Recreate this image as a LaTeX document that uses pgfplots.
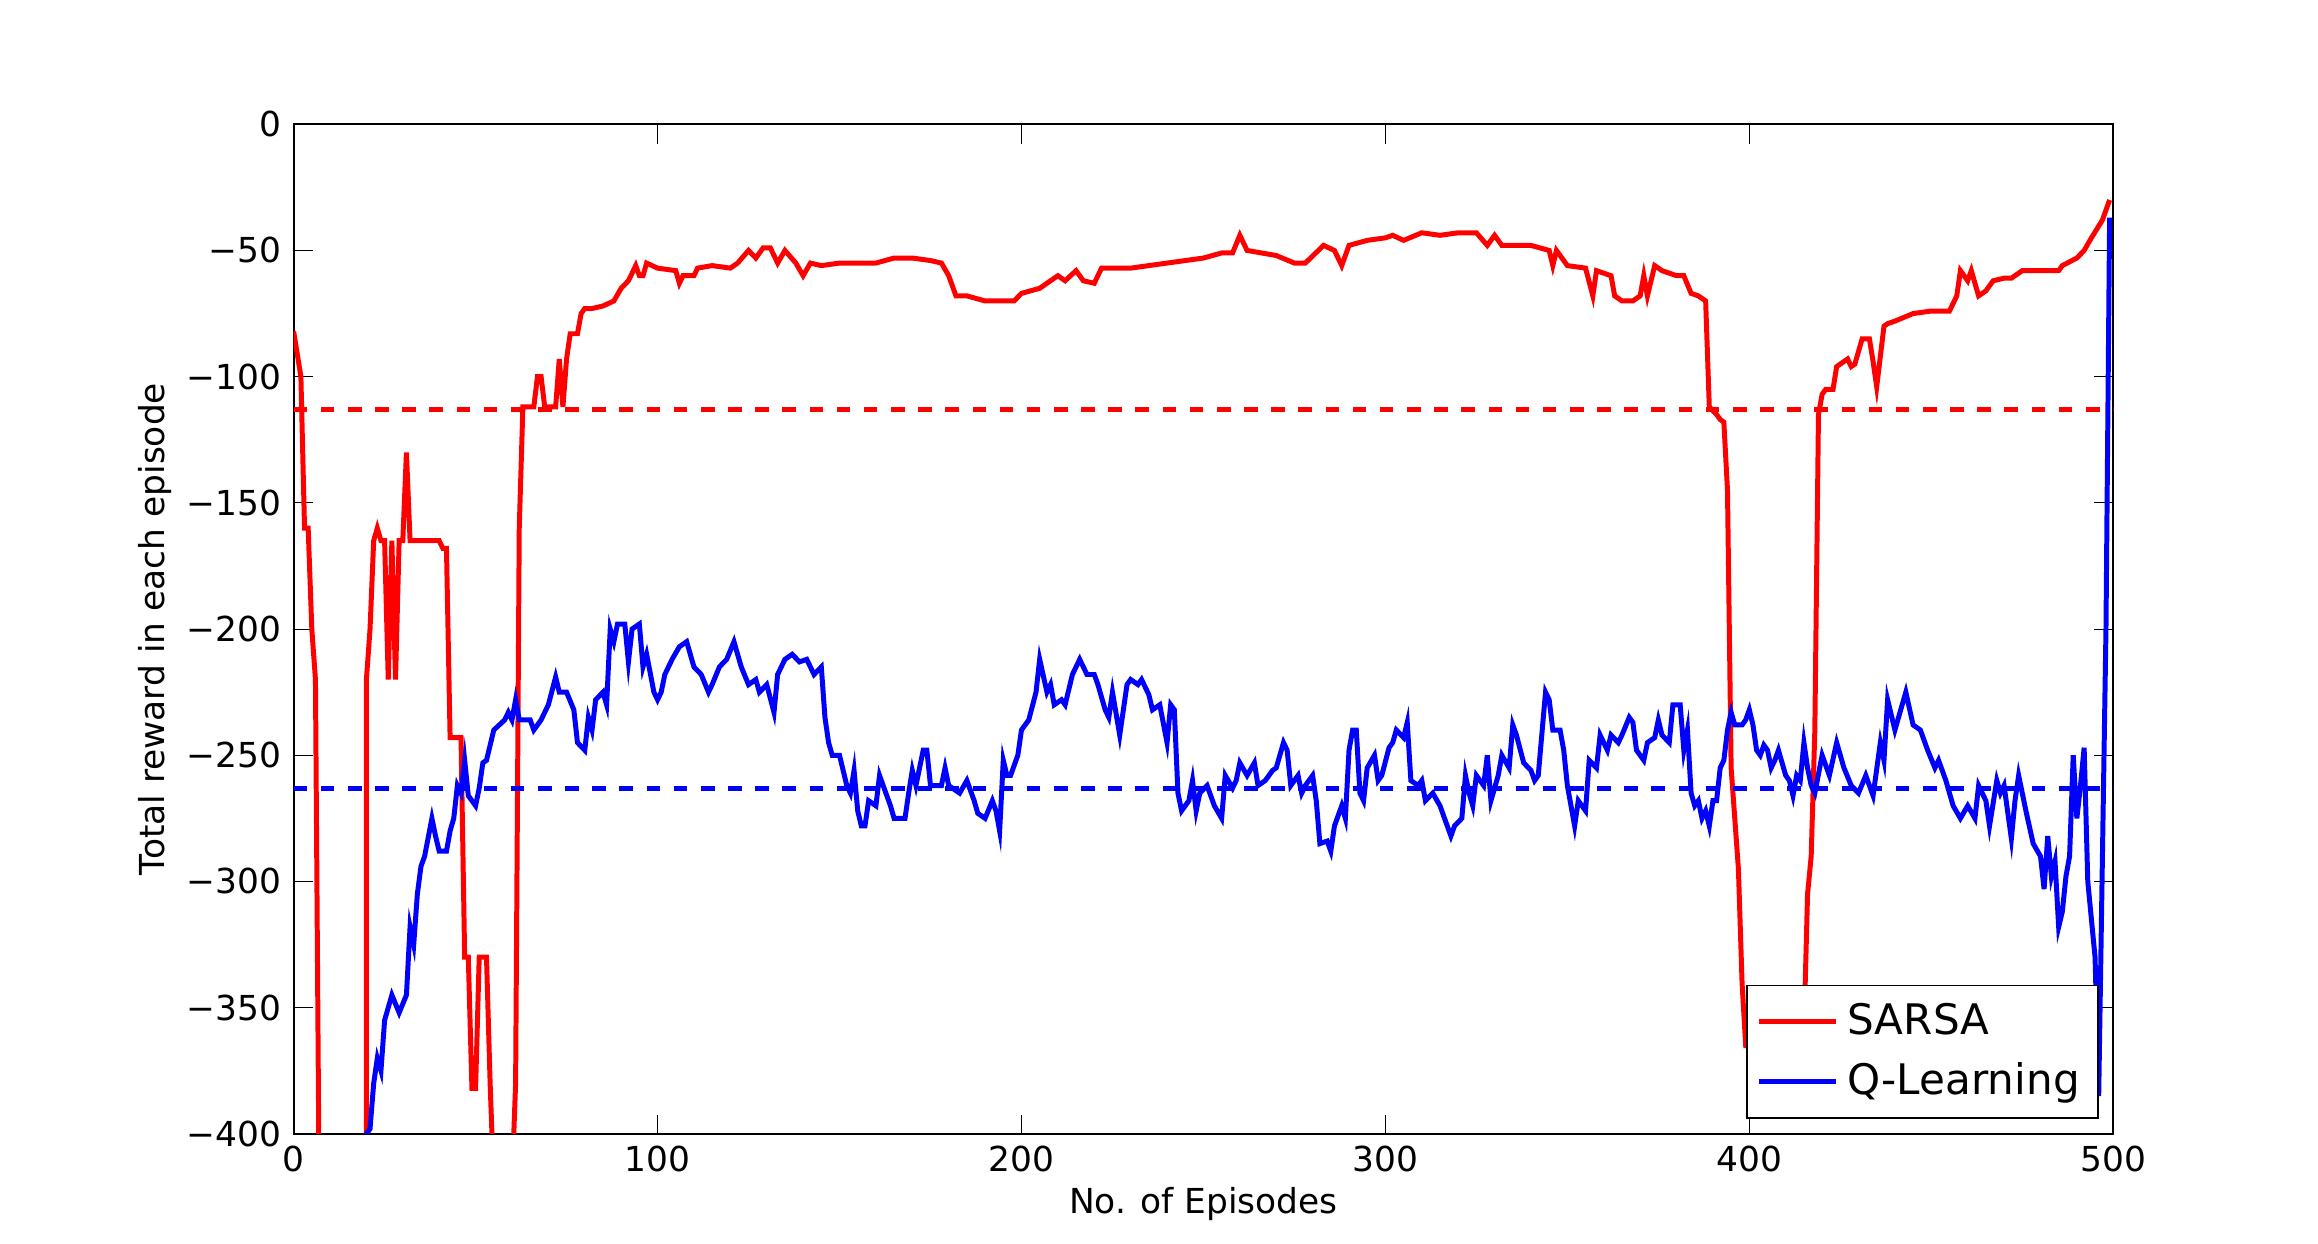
\documentclass[border=0pt]{standalone}
\usepackage{pgfplots}
\pgfplotsset{compat=1.18}
\usepackage{fontspec}
\setmainfont{DejaVu Sans}
\begin{document}
\fontsize{7.6}{9}\selectfont
\begin{tikzpicture}
\begin{axis}[name=ax,
 width=14.13cm, height=7.84cm, scale only axis,
 xmin=0, xmax=500, ymin=-400, ymax=0,
 xtick={0,100,...,500}, ytick={-400,-350,...,0},
 /pgf/number format/assume math mode=true,
 yticklabel={\pgfmathparse{-\tick}\ifdim\tick pt<0pt\char"2212\pgfmathprintnumber[assume math mode=true,fixed,precision=0]{\pgfmathresult}\else 0\fi},
 xlabel={No. of Episodes}, ylabel={Total reward in each episode},
 xlabel style={yshift=2pt}, ylabel style={yshift=-2pt},
 tick align=inside, tick style={black},
 legend style={at={(0.992,0.015)}, anchor=south east, font=\fontsize{9.3}{11}\selectfont, draw=black, inner sep=2pt, row sep=1pt},
 legend cell align=left,
]
\addplot[red, line width=1.1pt] coordinates {
(0,-82)(2,-100)(3,-160)(4,-160)(5,-200)(6,-220)(7,-420)(20,-420)(20,-220)(21,-200)(22,-165)(23,-160)(24,-165)(25,-165)(26,-220)(27,-165)(28,-220)(29,-165)(30,-165)(31,-130)(32,-165)(40,-165)(41,-168)(42,-168)(43,-243)(46,-243)(47,-330)(48,-330)(49,-382)(50,-382)(51,-330)(53,-330)(54,-380)(55,-420)(60,-420)(61,-380)(62,-160)(63,-112)(66,-112)(67,-100)(68,-100)(69,-112)(72,-112)(73,-93)(74,-112)(75,-93)(76,-83)(78,-83)(79,-75)(80,-73)(82,-73)(85,-72)(88,-70)(90,-65)(92,-62)(94,-56)(95,-60)(96,-60)(97,-55)(100,-57)(105,-58)(106,-63)(107,-60)(110,-60)(111,-57)(115,-56)(120,-57)(122,-55)(125,-50)(127,-53)(129,-49)(131,-49)(133,-55)(135,-50)(138,-55)(140,-60)(142,-55)(145,-56)(150,-55)(160,-55)(165,-53)(170,-53)(175,-54)(178,-55)(180,-60)(182,-68)(185,-68)(190,-70)(195,-70)(198,-70)(200,-67)(205,-65)(210,-60)(212,-62)(215,-58)(217,-62)(220,-63)(222,-57)(230,-57)(240,-55)(250,-53)(255,-51)(258,-51)(260,-44)(262,-50)(270,-52)(275,-55)(278,-55)(283,-48)(286,-50)(288,-56)(290,-48)(295,-46)(300,-45)(302,-44)(305,-46)(310,-43)(315,-44)(320,-43)(325,-43)(328,-48)(330,-44)(332,-48)(340,-48)(345,-50)(346,-56)(347,-50)(350,-56)(355,-57)(357,-68)(358,-58)(362,-60)(363,-68)(365,-70)(368,-70)(370,-68)(371,-60)(372,-68)(374,-56)(376,-58)(380,-60)(382,-60)(384,-67)(386,-68)(388,-70)(389,-112)(391,-115)(392,-117)(393,-118)(394,-145)(395,-255)(396,-275)(397,-295)(398,-340)(399,-365)(401,-365)(403,-370)(405,-372)(406,-378)(408,-372)(409,-378)(411,-368)(413,-368)(414,-372)(415,-360)(416,-305)(417,-290)(418,-240)(419,-115)(420,-107)(421,-105)(423,-105)(424,-96)(427,-93)(428,-96)(429,-95)(431,-85)(433,-85)(434,-94)(435,-104)(437,-80)(438,-79)(440,-78)(445,-75)(450,-74)(455,-74)(457,-68)(458,-58)(460,-62)(461,-58)(463,-68)(465,-66)(467,-62)(470,-61)(472,-61)(475,-58)(480,-58)(485,-58)(486,-56)(490,-53)(492,-50)(494,-45)(497,-38)(499,-30)
};
\addlegendentry{SARSA}
\addplot[blue, line width=1.1pt] coordinates {
(0,-420)(19,-420)(20,-400)(21,-398)(22,-380)(23,-370)(24,-375)(25,-355)(27,-345)(29,-352)(31,-345)(32,-318)(33,-325)(34,-305)(35,-294)(36,-290)(38,-275)(39,-282)(40,-288)(42,-288)(43,-280)(44,-275)(45,-262)(46,-265)(47,-252)(48,-266)(50,-270)(51,-263)(52,-253)(53,-252)(55,-240)(58,-236)(59,-233)(60,-236)(61,-228)(62,-236)(65,-236)(66,-240)(68,-236)(70,-230)(72,-219)(73,-225)(75,-225)(77,-232)(78,-245)(80,-248)(81,-235)(82,-240)(83,-228)(85,-225)(86,-230)(87,-200)(88,-205)(89,-198)(91,-198)(92,-213)(93,-200)(95,-198)(96,-215)(97,-210)(99,-225)(100,-228)(101,-225)(102,-218)(104,-212)(106,-207)(108,-205)(109,-210)(110,-215)(112,-218)(114,-225)(115,-222)(117,-215)(119,-212)(121,-205)(123,-215)(125,-222)(127,-220)(128,-225)(130,-222)(132,-233)(133,-218)(135,-212)(137,-210)(139,-213)(141,-212)(143,-218)(145,-215)(146,-235)(147,-245)(148,-250)(150,-250)(152,-262)(153,-265)(154,-256)(155,-272)(156,-278)(157,-278)(158,-268)(160,-270)(161,-258)(162,-262)(164,-270)(165,-275)(168,-275)(169,-265)(170,-256)(171,-262)(172,-255)(173,-248)(174,-248)(175,-262)(178,-262)(179,-255)(180,-262)(183,-265)(185,-260)(187,-268)(188,-273)(190,-275)(192,-268)(193,-272)(194,-280)(195,-252)(196,-258)(197,-258)(199,-250)(200,-240)(202,-236)(204,-225)(205,-212)(207,-225)(208,-222)(209,-230)(211,-228)(212,-230)(214,-218)(216,-212)(218,-218)(220,-218)(221,-222)(223,-232)(224,-235)(225,-225)(227,-242)(228,-232)(229,-222)(230,-220)(232,-222)(233,-220)(235,-226)(236,-232)(238,-230)(240,-245)(241,-230)(242,-232)(243,-265)(244,-272)(246,-268)(247,-260)(248,-272)(249,-265)(251,-262)(253,-270)(255,-275)(256,-258)(258,-263)(259,-260)(260,-253)(262,-258)(264,-253)(265,-262)(267,-260)(269,-256)(270,-255)(272,-245)(273,-248)(274,-262)(276,-258)(277,-265)(278,-262)(280,-258)(281,-268)(282,-285)(284,-284)(285,-288)(286,-278)(288,-270)(289,-275)(290,-248)(291,-240)(292,-240)(293,-265)(294,-268)(295,-255)(297,-250)(298,-260)(299,-258)(301,-247)(302,-245)(303,-240)(305,-243)(306,-237)(307,-260)(309,-262)(310,-260)(311,-268)(313,-265)(315,-270)(317,-278)(318,-282)(319,-278)(321,-275)(322,-258)(323,-265)(324,-270)(325,-258)(327,-262)(328,-250)(329,-268)(331,-258)(332,-250)(334,-255)(335,-238)(336,-242)(338,-253)(340,-256)(341,-260)(342,-258)(344,-225)(345,-228)(346,-240)(348,-240)(349,-248)(350,-262)(351,-270)(352,-278)(353,-268)(355,-272)(356,-252)(358,-255)(359,-242)(361,-248)(362,-242)(364,-245)(365,-242)(367,-235)(368,-237)(369,-248)(371,-252)(372,-245)(374,-243)(375,-236)(376,-242)(378,-245)(379,-230)(381,-230)(382,-248)(383,-240)(384,-265)(385,-270)(386,-268)(387,-275)(388,-272)(389,-278)(390,-268)(391,-268)(392,-255)(393,-252)(394,-240)(395,-233)(396,-238)(398,-238)(399,-236)(400,-232)(401,-238)(402,-248)(403,-250)(404,-246)(405,-248)(406,-255)(407,-252)(408,-248)(410,-258)(411,-260)(412,-266)(413,-258)(414,-260)(415,-245)(416,-255)(417,-262)(418,-265)(420,-250)(422,-258)(424,-245)(426,-255)(428,-262)(430,-265)(432,-258)(434,-266)(436,-245)(437,-252)(438,-228)(440,-240)(441,-235)(443,-225)(445,-238)(447,-240)(449,-248)(451,-255)(452,-252)(454,-260)(456,-270)(458,-275)(460,-270)(462,-275)(463,-262)(465,-268)(466,-278)(468,-260)(469,-265)(470,-262)(472,-283)(473,-268)(474,-258)(476,-272)(478,-285)(480,-290)(481,-303)(482,-282)(483,-298)(484,-292)(485,-318)(486,-312)(487,-298)(488,-290)(489,-250)(490,-275)(491,-262)(492,-247)(493,-300)(495,-330)(496,-385)(498,-200)(499,-37)
};
\addlegendentry{Q-Learning}
\addplot[red, dashed, line width=1.1pt, forget plot] coordinates {(0,-113)(500,-113)};
\addplot[blue, dashed, line width=1.1pt, forget plot] coordinates {(0,-263)(500,-263)};
\end{axis}
\useasboundingbox ([xshift=-2.28cm,yshift=-0.85cm]ax.south west) rectangle ([xshift=1.59cm,yshift=0.965cm]ax.north east);
\end{tikzpicture}
\end{document}
